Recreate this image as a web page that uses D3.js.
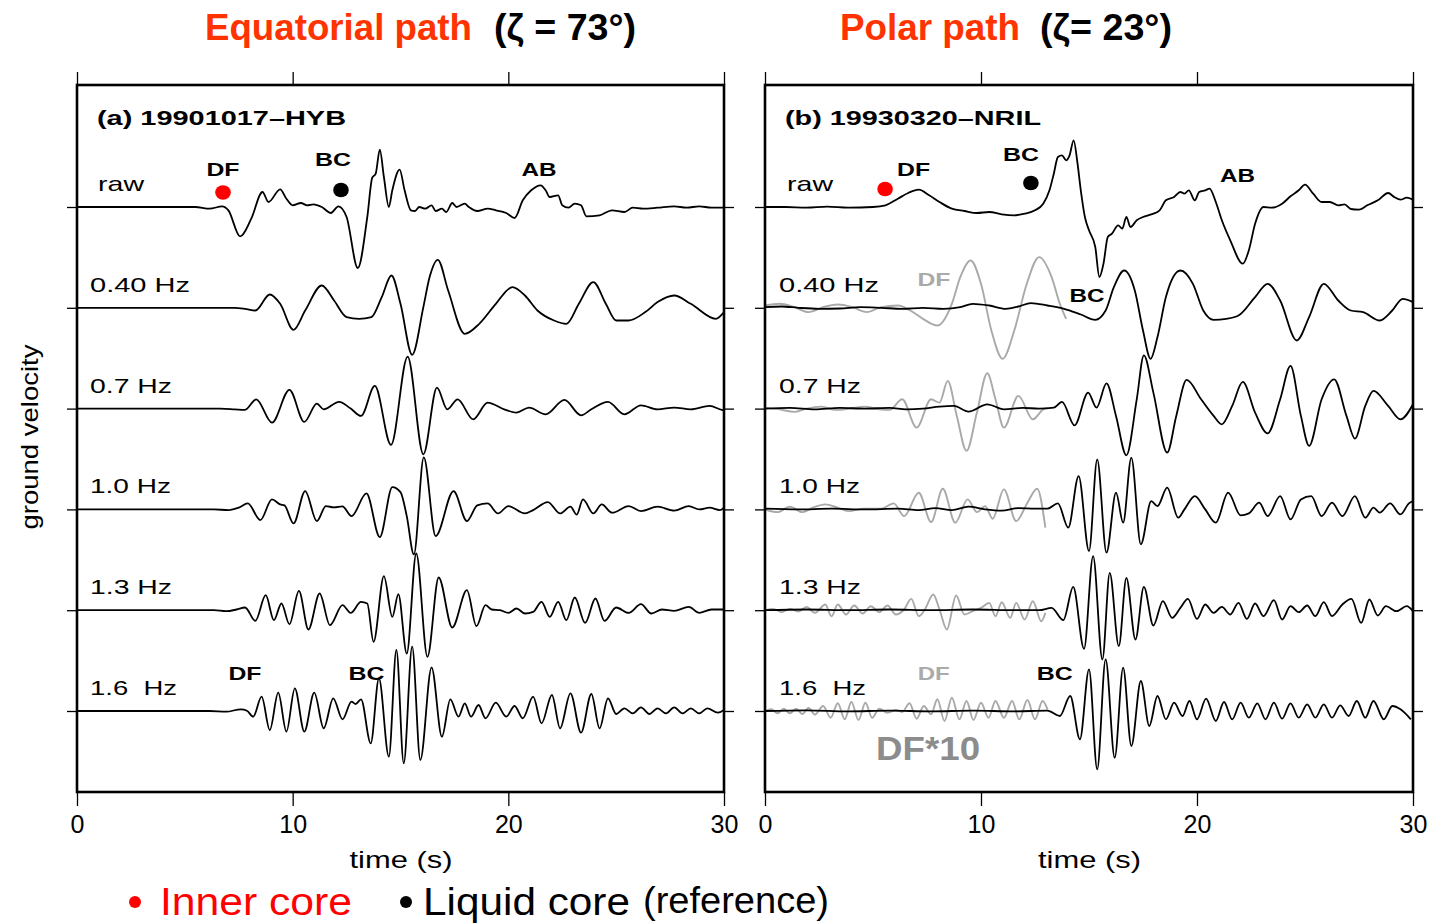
<!DOCTYPE html>
<html>
<head>
<meta charset="utf-8">
<script src="https://cdn.jsdelivr.net/npm/d3@7"></script>
<style>
  body { margin: 0; background: #fff; }
  svg { display: block; }
  text { font-family: "Liberation Sans", Arial, sans-serif; white-space: pre; }
</style>
</head>
<body>
<svg id="chart" width="1432" height="923"></svg>
<script>
// ---- trace names and axis ticks ----
const traceNames = ["raw", "0.40 Hz", "0.7 Hz", "1.0 Hz", "1.3 Hz", "1.6  Hz"];
const timeTicks = [0, 10, 20, 30];

// ---- (a) 19901017-HYB : [time (s), ground velocity (relative units)] ----
const hybRaw = [[0,0],[5.48,0],[6.15,-1.7],[6.73,0.7],[7.02,-3.3],[7.56,-29.3],[8.08,-11.7],[8.6,15],[8.88,5],[9.42,17.7],[9.71,8.3],[10.0,1.7],[10.38,4],[10.67,1.7],[10.96,2.7],[11.35,0],[11.77,-6],[12.12,0.7],[12.5,-10],[13.02,-61],[13.46,-10],[13.69,29.3],[13.85,33.3],[14.04,57.3],[14.23,30],[14.46,0],[14.62,16.7],[14.96,37.3],[15.19,16.7],[15.48,-3.3],[15.67,-4],[15.87,0],[16.15,-1.7],[16.44,1.7],[16.63,-4],[16.92,-1.7],[17.12,-5],[17.4,4],[17.6,0],[17.98,3.3],[18.17,0],[18.56,-4],[19.04,-1.7],[19.42,-3.3],[19.9,-6],[20.29,-11],[20.67,6.7],[21.06,16.7],[21.5,21.7],[21.73,16.7],[21.92,10],[22.31,11.7],[22.5,1.7],[22.79,-0.7],[23.08,3.3],[23.37,1.7],[23.62,-9.3],[24.23,-8.3],[24.81,-3.3],[25.38,-5],[25.77,-0.7],[26.25,-1.7],[26.92,-0.7],[27.69,0.7],[28.27,-0.7],[28.85,0.7],[29.42,-0.7],[30,-0.7]];
const hyb040 = [[0,0],[7.31,0],[7.79,-1],[8.27,-2.7],[8.94,13.3],[9.42,4],[10.04,-22],[10.58,-2.7],[11.35,22.3],[11.92,7.3],[12.5,-9.3],[13.08,-11],[13.65,-9.3],[14.13,10.7],[14.58,32.3],[15.0,4],[15.54,-47],[16.06,0.7],[16.35,30.7],[16.73,48],[17.21,17.3],[17.98,-26],[18.65,-16],[19.42,4],[20.19,20.7],[20.77,12.3],[21.35,-2.7],[22.12,-12.7],[22.69,-16],[23.27,4],[23.94,25.7],[24.52,4],[25.0,-12.7],[25.58,-12.7],[26.35,-4.3],[26.92,5.7],[27.69,12.3],[28.46,4],[29.62,-11],[30,-4.3]];
const hyb07 = [[0,0],[6.63,0],[7.31,-0.7],[7.79,-1.3],[8.31,9.3],[9.04,-14],[9.85,18.7],[10.54,-13.3],[11.12,5],[11.44,-0.7],[12.15,6.7],[12.69,0],[13.17,-7.3],[13.81,22.7],[14.56,-36.3],[15.33,52],[16.06,-45.7],[16.69,21],[17.17,-0.7],[17.65,9.3],[18.37,-10.7],[19.04,6],[19.81,-0.7],[20.38,-4],[20.96,1],[21.73,-5.7],[22.6,8.7],[23.37,-6.7],[23.85,-0.7],[24.62,6.7],[25.38,-5.7],[26.15,3.3],[26.92,-0.7],[27.69,1],[28.46,-0.7],[29.33,2.7],[29.9,-1.3],[30,-1.7]];
const hyb10 = [[0,0],[6.35,0],[7.02,-0.7],[7.5,1.7],[7.92,6],[8.5,-10.7],[9.04,10],[9.42,5],[9.62,4],[10.04,-14],[10.58,18.3],[11.12,-11.7],[11.54,3.3],[11.92,2],[12.31,3],[12.73,-6.7],[13.42,16],[14.04,-27.7],[14.62,22.3],[15.0,17.3],[15.29,-6.7],[15.62,-45],[16.08,52],[16.63,-26.7],[17.46,18.3],[18.08,-11.7],[18.56,4],[19.04,6],[19.52,-4],[20.0,3.3],[20.77,-4],[21.15,-0.7],[21.83,7.3],[22.4,-4],[22.88,2.7],[23.17,-5.3],[23.46,10],[23.94,-4],[24.33,5],[24.81,-3.3],[25.58,3.3],[26.15,-1.7],[26.92,2.7],[27.69,-1.3],[28.37,3.3],[28.85,0],[29.33,1.7],[29.81,-0.7],[30,1.7]];
const hyb13 = [[0,0],[6.35,0],[6.92,-1],[7.4,0.7],[7.79,2.7],[8.27,-10.7],[8.75,15],[9.13,-10],[9.48,6.7],[9.85,-14],[10.29,19.3],[10.73,-19.3],[11.25,16.7],[11.73,-15],[12.31,5],[12.69,-2.7],[13.17,8.3],[13.46,6.7],[13.75,-31.7],[14.23,34],[14.62,-6.7],[14.9,16],[15.29,-43.3],[15.73,56.7],[16.25,-46.7],[16.77,32.7],[17.4,-17.3],[18.08,20],[18.52,-16],[18.94,5],[19.23,0.7],[19.62,0],[20.0,-2.7],[20.38,1.7],[20.77,-3.3],[21.15,-1.7],[21.54,8.3],[21.92,-6.7],[22.31,8.3],[22.69,-10],[23.08,12.7],[23.56,-12.7],[24.04,11.7],[24.46,-10.7],[25.0,2.7],[25.58,-2.7],[26.15,6],[26.63,-3.3],[27.12,0.7],[27.69,-0.7],[28.37,3.3],[28.85,-2.7],[29.42,0.7],[30,0.7]];
const hyb16 = [[0,0],[6.15,0],[6.92,-0.7],[7.6,1.7],[7.88,0.3],[8.17,-5.7],[8.56,14.3],[8.94,-19],[9.33,18.3],[9.71,-20.7],[10.1,22.7],[10.54,-20.7],[11.0,18.3],[11.44,-17.3],[11.88,12.7],[12.31,-8.3],[12.73,9.3],[12.92,7],[13.17,11.7],[13.62,-32.3],[14.0,32.7],[14.46,-45.7],[14.81,61],[15.15,-52.3],[15.54,64.3],[15.92,-49],[16.44,43.7],[16.92,-25.7],[17.31,11.7],[17.69,-5.7],[17.98,7.7],[18.27,-5.7],[18.62,6],[18.94,-7.3],[19.42,8.3],[19.9,-5.7],[20.29,5],[20.67,-7.3],[21.15,14.3],[21.54,-12.3],[22.02,16],[22.4,-17.3],[22.88,17.7],[23.37,-21.7],[23.85,17],[24.23,-17.3],[24.62,12.7],[25.0,-3],[25.38,2.7],[25.77,-2.3],[26.15,3.7],[26.54,-3],[26.92,2.7],[27.31,-2.3],[27.69,3.7],[28.08,-2.3],[28.46,2.7],[28.85,-2.3],[29.23,2.7],[29.71,-1.7],[30,1]];

// ---- (b) 19930320-NRIL ----
const nrilRaw = [[0,0],[0.96,0],[1.92,-0.7],[2.88,0.3],[3.85,-0.7],[5.0,0],[5.58,1.7],[6.15,8.3],[6.63,14],[7.12,17.3],[7.6,11.7],[8.08,5],[8.65,-1.7],[9.23,-4],[9.81,-6],[10.38,-5],[10.96,-7.3],[11.54,-8.3],[12.02,-6.7],[12.5,-3.3],[12.88,3.3],[13.17,16.7],[13.37,33.3],[13.56,50],[13.75,51.7],[13.94,46.7],[14.1,51.7],[14.29,66.7],[14.46,45],[14.62,16.7],[14.81,-10],[15.0,-23.3],[15.29,-40],[15.48,-70],[15.67,-56.7],[15.87,-30],[16.06,-26.7],[16.35,-18.3],[16.54,-21.7],[16.73,-10],[16.92,-20],[17.21,-13.3],[17.5,-10],[17.88,-7.3],[18.27,-3.3],[18.56,6.7],[18.94,10],[19.23,15],[19.42,13.3],[19.62,16.7],[19.9,6.7],[20.1,15],[20.38,16.7],[20.58,18.3],[20.87,5],[21.15,-13.3],[21.54,-33.3],[22.12,-56.7],[22.4,-43.3],[22.69,-16.7],[23.08,0],[23.46,-0.7],[23.94,3.3],[24.33,10.7],[24.71,16.7],[25.0,22.3],[25.38,13.3],[25.77,5],[26.15,5],[26.54,1.7],[26.83,2.7],[27.12,-2],[27.5,-2.7],[27.88,1.7],[28.37,6.7],[28.85,14],[29.13,10],[29.42,7.3],[29.71,9.3],[30,7.3]];
const nril040 = [[0,0.7],[0.77,1.3],[1.54,0],[2.5,-1],[3.46,-0.7],[4.42,0.7],[5.38,0],[6.35,-1],[7.31,0],[8.27,-1],[9.04,0.7],[9.62,4],[10.38,2.3],[11.15,-1],[11.73,1.3],[12.31,4.7],[13.08,2.3],[13.85,-1],[14.62,-6.7],[15.29,-12],[15.77,-2.7],[16.15,20.7],[16.63,37.3],[17.12,17.3],[17.5,-22.7],[17.85,-51],[18.17,-29.3],[18.56,10.7],[19.23,37.3],[19.81,24],[20.29,-2.7],[20.77,-12],[21.35,-11],[21.92,-7.7],[22.69,10.7],[23.27,24],[23.85,7.3],[24.62,-32.7],[25.19,-9.3],[25.87,24],[26.54,7.3],[27.12,-2.7],[27.69,-4.3],[28.46,-12.7],[29.04,-2.7],[29.52,9],[30,5.7]];
const nril07 = [[0,0],[1.15,0.7],[2.31,-0.7],[3.46,0.7],[4.62,0],[5.77,0.7],[6.54,-0.7],[7.31,0],[8.08,2],[8.75,2.7],[9.42,-3],[10.29,4.3],[11.06,-0.7],[11.92,0.7],[12.69,0],[13.37,1],[13.75,6.7],[14.33,-16.7],[14.96,16],[15.35,1],[15.81,25.3],[16.25,-7.3],[16.73,-46.7],[17.21,9.3],[17.54,53.3],[17.98,16],[18.62,-44],[19.04,-7.3],[19.52,28.7],[20.19,9.3],[20.77,-7.3],[21.15,-15.7],[21.63,2.7],[22.12,26.7],[22.69,-4],[23.27,-24.7],[23.85,9.3],[24.33,42.7],[24.81,-7.3],[25.19,-37.3],[25.77,9.3],[26.35,29.3],[26.92,-7.3],[27.31,-30],[27.79,2.7],[28.17,17.7],[28.85,2.7],[29.42,-10.7],[30,4.3]];
const nril10 = [[0,0.7],[1.54,0],[3.08,0.7],[4.62,0],[6.15,0.7],[7.12,-0.7],[7.88,1.3],[8.65,-0.7],[9.42,2.7],[10.19,0],[10.96,-1.3],[11.73,1.3],[12.5,0.7],[13.08,0.7],[13.56,6],[14.04,-18.3],[14.52,33.3],[15.0,-41.7],[15.38,50],[15.81,-43.3],[16.25,16.7],[16.58,-13.3],[16.96,51.7],[17.4,-35],[17.88,8.3],[18.17,3.3],[18.62,21.7],[19.13,-8.3],[19.42,0],[19.9,13.3],[20.38,0],[20.87,-13.3],[21.44,16.7],[22.02,-6],[22.4,-4],[22.88,6.7],[23.27,-6.7],[23.85,13.3],[24.33,-10],[24.81,10],[25.29,13.3],[25.77,-6.7],[26.25,6.7],[26.73,-6.7],[27.31,13.3],[27.79,-8.3],[28.17,1.7],[28.46,-3.3],[28.94,6],[29.42,-5],[29.81,6],[30,8.3]];
const nril13 = [[0,0],[1.92,0.7],[3.85,0],[5.77,0.7],[7.69,0],[9.62,0.7],[11.54,0],[12.69,0],[13.27,2.3],[13.81,-10],[14.27,23.3],[14.77,-38.7],[15.19,54],[15.62,-49.3],[15.96,37.3],[16.38,-36],[16.73,32.3],[17.15,-29.3],[17.54,23.3],[17.98,-15.3],[18.42,9],[18.85,-7.7],[19.23,2.3],[19.58,11.3],[20.0,-8.7],[20.38,5.7],[20.77,-2.7],[21.15,3.3],[21.54,-4.3],[21.92,7.3],[22.31,-8.7],[22.69,6.7],[23.08,-6],[23.56,10],[23.94,-9.3],[24.33,4],[24.71,-2],[25.1,4.7],[25.48,-6],[25.87,8],[26.25,-6],[26.73,5.7],[27.15,11.3],[27.6,-12.7],[27.98,10.7],[28.37,-5.3],[28.75,4],[29.23,-1],[29.71,4],[30,-1]];
const nril16 = [[0,0],[1.92,0.7],[3.85,-0.3],[5.77,0.3],[7.69,-0.3],[9.62,0.3],[11.54,-0.3],[13.08,0.3],[13.65,-5],[14.13,15],[14.58,-28.3],[15.0,41.7],[15.38,-58.3],[15.77,51.7],[16.19,-46.7],[16.58,43.3],[16.96,-35],[17.4,30],[17.79,-15],[18.17,15],[18.56,-8.3],[18.94,8.3],[19.33,-5],[19.65,10],[20.0,-8.3],[20.42,12.3],[20.87,-10],[21.25,9],[21.63,-8.3],[22.02,8.3],[22.4,-6.7],[22.79,7.7],[23.17,-8.3],[23.56,8.3],[23.94,-7.7],[24.33,7.7],[24.71,-6.7],[25.1,6.7],[25.48,-6.7],[25.87,6.7],[26.25,-6.7],[26.63,5.7],[27.02,-5],[27.4,10],[27.79,-6.7],[28.17,10],[28.65,-8.3],[29.04,5],[29.42,1.7],[29.9,-8.3]];

// DF window amplified x10 (grey)
const nril040df = [[0,2.3],[0.67,4],[1.35,0.7],[2.02,-4.3],[2.69,0.7],[3.37,3.3],[4.04,0.7],[4.71,-4.3],[5.38,0.7],[6.15,2.3],[6.73,-2.7],[7.31,-11],[7.98,-17.7],[8.65,4],[9.04,30.7],[9.52,47.3],[10.0,24],[10.48,-22.7],[11.0,-51],[11.54,-22.7],[12.12,24],[12.69,50.7],[13.27,30.7],[13.65,4],[13.94,-11]];
const nril07df = [[0,1],[0.67,-0.7],[1.35,-3.3],[1.92,0],[2.6,2],[3.27,-1.3],[3.94,0],[4.62,2],[5.29,-0.7],[5.77,-1.3],[6.35,9.3],[7.02,-19],[7.69,9.3],[8.08,6],[8.46,27.7],[8.88,-7.3],[9.33,-42.3],[9.81,-4],[10.29,35.3],[10.67,9.3],[11.06,-19],[11.73,12.7],[12.4,-10.7],[12.88,-0.7],[13.08,1]];
const nril10df = [[0,0],[0.58,-2.7],[1.15,2.7],[1.73,-2.7],[2.21,1.7],[2.79,5],[3.37,1.7],[3.85,-1.7],[4.62,0.7],[5.38,0.7],[5.96,6],[6.44,-6.7],[7.12,16.7],[7.69,-12.7],[8.23,20.7],[8.81,-13.3],[9.38,10],[9.81,-2.7],[10.19,3.3],[10.54,-9.3],[11.06,20],[11.63,-11.7],[12.15,6.7],[12.6,20.7],[12.98,-18.3]];
const nril13df = [[0,0],[0.38,1.3],[0.77,-2],[1.15,1.3],[1.54,-1.3],[1.92,3.3],[2.31,-2.7],[2.79,5.7],[3.08,-6],[3.37,5.7],[3.75,-4.3],[4.13,4.7],[4.52,-3.3],[4.9,4],[5.29,-2],[5.67,4.7],[6.06,-4.3],[6.44,0.7],[6.77,11.3],[7.12,-6],[7.4,0.7],[7.79,15.7],[8.08,0.7],[8.42,-19.3],[8.85,14.7],[9.23,-4.3],[9.62,-1],[10.0,2.3],[10.38,7.3],[10.67,-6],[10.96,8],[11.35,-7.7],[11.63,7.3],[12.02,-9.3],[12.4,9],[12.79,-11],[12.98,-2.7]];
const nril16df = [[0,0],[0.29,1.7],[0.58,-2.3],[0.87,2.3],[1.15,-2.3],[1.44,2.3],[1.73,-3],[2.02,3],[2.31,-3.7],[2.69,5],[3.04,-6.7],[3.37,7.7],[3.69,-8.3],[4.0,9],[4.33,-9],[4.65,8.3],[4.96,-6.7],[5.29,2.3],[5.67,-1.7],[6.06,1],[6.35,-1],[6.69,7.7],[7.02,-7.7],[7.35,5],[7.69,-3.3],[7.98,11.7],[8.31,-10],[8.65,13.3],[9.0,-8.3],[9.33,10],[9.65,-9],[10.0,8.3],[10.35,-6.7],[10.67,10],[11.06,-6.7],[11.44,10],[11.77,-8.3],[12.15,11],[12.5,-8.3],[12.85,10],[13.08,1.7]];

// ---- layout ----
const svg = d3.select("#chart");
const frameTop = 85, frameBottom = 792;
const yBase = d3.scalePoint().domain(traceNames).range([207, 711]);
const amp = d3.scaleLinear().domain([-100, 100]).range([100, -100]);

const panels = [
  {
    key: "a", x0: 77, x1: 724, label: "(a) 19901017–HYB", labelW: 249,
    black: [hybRaw, hyb040, hyb07, hyb10, hyb13, hyb16],
    grey: [null, null, null, null, null, null],
    nameX: [21, 13, 13, 13, 13, 13],
    phases: [
      { text: "DF", t: 6.77, y: 176, w: 33, color: "#000" },
      { text: "BC", t: 11.87, y: 166, w: 36, color: "#000" },
      { text: "AB", t: 21.42, y: 176, w: 35, color: "#000" },
      { text: "DF", t: 7.79, y: 680, w: 33, color: "#000" },
      { text: "BC", t: 13.43, y: 680, w: 36, color: "#000" }
    ],
    dots: [ { t: 6.77, y: 192.5, color: "#ff0000" }, { t: 12.24, y: 190, color: "#000" } ]
  },
  {
    key: "b", x0: 765, x1: 1413, label: "(b) 19930320–NRIL", labelW: 256,
    black: [nrilRaw, nril040, nril07, nril10, nril13, nril16],
    grey: [null, nril040df, nril07df, nril10df, nril13df, nril16df],
    nameX: [22, 14, 14, 14, 14, 14],
    phases: [
      { text: "DF", t: 6.88, y: 176, w: 33, color: "#000" },
      { text: "BC", t: 11.85, y: 161, w: 36, color: "#000" },
      { text: "AB", t: 21.88, y: 182, w: 35, color: "#000" },
      { text: "DF", t: 7.82, y: 286, w: 33, color: "#aaaaaa" },
      { text: "BC", t: 14.91, y: 302, w: 35, color: "#000" },
      { text: "DF", t: 7.81, y: 680, w: 32, color: "#aaaaaa" },
      { text: "BC", t: 13.41, y: 680, w: 36, color: "#000" }
    ],
    dots: [ { t: 5.56, y: 189, color: "#ff0000" }, { t: 12.31, y: 183, color: "#000" } ]
  }
];

const nameW = [46, 100, 82, 81, 82, 87];

panels.forEach(p => {
  const x = d3.scaleLinear().domain([0, 30]).range([p.x0, p.x1]);
  const g = svg.append("g").attr("class", "panel-" + p.key);

  const clipId = "clip-" + p.key;
  svg.append("defs").append("clipPath").attr("id", clipId)
    .append("rect").attr("x", p.x0).attr("y", frameTop)
    .attr("width", p.x1 - p.x0).attr("height", frameBottom - frameTop);

  // time axes (top ticks without labels, bottom with labels)
  const topAxis = g.append("g").attr("transform", `translate(0,${frameTop})`)
    .call(d3.axisTop(x).tickValues(timeTicks).tickSize(13).tickFormat(""));
  const botAxis = g.append("g").attr("transform", `translate(0,${frameBottom})`)
    .call(d3.axisBottom(x).tickValues(timeTicks).tickSize(14).tickPadding(9).tickFormat(d3.format("d")));
  [topAxis, botAxis].forEach(a => {
    a.select(".domain").remove();
    a.selectAll(".tick line").attr("stroke", "#000").attr("stroke-width", 1.3);
  });
  botAxis.selectAll(".tick text")
    .attr("font-size", 25).attr("fill", "#000")
    .style("font-family", "'Liberation Sans', Arial, sans-serif");

  // baseline ticks on both sides
  [d3.axisLeft(yBase).tickSize(10), d3.axisRight(yBase).tickSize(10)].forEach((ax, i) => {
    const a = g.append("g").attr("transform", `translate(${i === 0 ? p.x0 : p.x1},0)`)
      .call(ax.tickFormat(""));
    a.select(".domain").remove();
    a.selectAll(".tick line").attr("stroke", "#000").attr("stroke-width", 1.3);
  });

  // seismograms
  const traces = g.append("g").attr("clip-path", `url(#${clipId})`);
  traceNames.forEach((name, i) => {
    const base = yBase(name);
    const line = d3.line()
      .x(d => x(d[0]))
      .y(d => base + amp(d[1]))
      .curve(d3.curveMonotoneX);
    if (p.grey[i]) {
      traces.append("path").datum(p.grey[i])
        .attr("d", line).attr("fill", "none")
        .attr("stroke", "#a9a9a9").attr("stroke-width", 1.9)
        .attr("stroke-linejoin", "round");
    }
  });
  traceNames.forEach((name, i) => {
    const base = yBase(name);
    const line = d3.line()
      .x(d => x(d[0]))
      .y(d => base + amp(d[1]))
      .curve(d3.curveMonotoneX);
    traces.append("path").datum(p.black[i])
      .attr("d", line).attr("fill", "none")
      .attr("stroke", "#000").attr("stroke-width", 1.8)
      .attr("stroke-linejoin", "round");

    g.append("text")
      .attr("x", p.x0 + p.nameX[i]).attr("y", base - 16)
      .attr("font-size", 21).attr("fill", "#000")
      .attr("textLength", nameW[i]).attr("lengthAdjust", "spacingAndGlyphs")
      .text(name);
  });

  // frame
  g.append("rect")
    .attr("x", p.x0).attr("y", frameTop)
    .attr("width", p.x1 - p.x0).attr("height", frameBottom - frameTop)
    .attr("fill", "none").attr("stroke", "#000").attr("stroke-width", 2.6);

  // panel title
  g.append("text")
    .attr("x", p.x0 + 20).attr("y", 125)
    .attr("font-size", 21).attr("font-weight", "bold")
    .attr("textLength", p.labelW).attr("lengthAdjust", "spacingAndGlyphs")
    .text(p.label);

  // phase labels
  p.phases.forEach(ph => {
    g.append("text")
      .attr("x", x(ph.t) - ph.w / 2).attr("y", ph.y)
      .attr("font-size", 18).attr("font-weight", "bold").attr("fill", ph.color)
      .attr("textLength", ph.w).attr("lengthAdjust", "spacingAndGlyphs")
      .text(ph.text);
  });
  p.dots.forEach(d => {
    g.append("ellipse")
      .attr("cx", x(d.t)).attr("cy", d.y).attr("rx", 7.8).attr("ry", 7.3)
      .attr("fill", d.color);
  });

  // axis title
  g.append("text")
    .attr("x", (p.x0 + p.x1) / 2 - 51).attr("y", 868)
    .attr("font-size", 24)
    .attr("textLength", 103).attr("lengthAdjust", "spacingAndGlyphs")
    .text("time (s)");

  if (p.key === "b") {
    g.append("text")
      .attr("x", x(7.55) - 52).attr("y", 760)
      .attr("font-size", 33).attr("font-weight", "bold").attr("fill", "#8c8c8c")
      .attr("textLength", 104).attr("lengthAdjust", "spacingAndGlyphs")
      .text("DF*10");
  }
});

// y-axis title
svg.append("text")
  .attr("transform", "translate(38,437) rotate(-90)")
  .attr("text-anchor", "middle")
  .attr("font-size", 24)
  .attr("textLength", 185).attr("lengthAdjust", "spacingAndGlyphs")
  .text("ground velocity");

// headings
const headings = [
  { text: "Equatorial path", x: 205, w: 267, color: "#ff3300" },
  { text: "(ζ = 73°)", x: 494, w: 142, color: "#000" },
  { text: "Polar path", x: 840, w: 180, color: "#ff3300" },
  { text: "(ζ= 23°)", x: 1040, w: 132, color: "#000" }
];
headings.forEach(h => {
  svg.append("text")
    .attr("x", h.x).attr("y", 40)
    .attr("font-size", 36).attr("font-weight", "bold").attr("fill", h.color)
    .attr("textLength", h.w).attr("lengthAdjust", "spacingAndGlyphs")
    .text(h.text);
});

// legend
const legend = svg.append("g");
legend.append("circle").attr("cx", 135).attr("cy", 902).attr("r", 6).attr("fill", "#ff0000");
legend.append("text").attr("x", 160).attr("y", 915).attr("font-size", 39).attr("fill", "#ff0000")
  .attr("textLength", 192).attr("lengthAdjust", "spacingAndGlyphs").text("Inner core");
legend.append("circle").attr("cx", 406).attr("cy", 902).attr("r", 6).attr("fill", "#000");
legend.append("text").attr("x", 423).attr("y", 915).attr("font-size", 39).attr("fill", "#000")
  .attr("textLength", 207).attr("lengthAdjust", "spacingAndGlyphs").text("Liquid core");
legend.append("text").attr("x", 643).attr("y", 913).attr("font-size", 36).attr("fill", "#000")
  .attr("textLength", 186).attr("lengthAdjust", "spacingAndGlyphs").text("(reference)");
</script>
</body>
</html>
